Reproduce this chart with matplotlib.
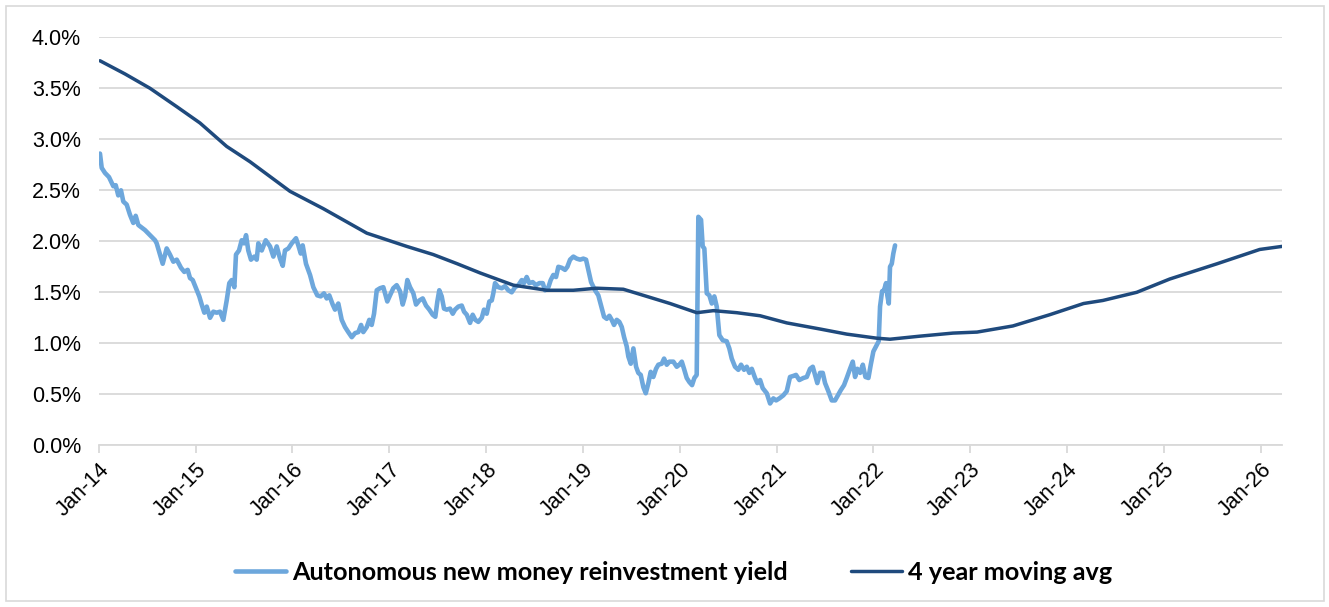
import numpy as np
import pandas as pd
import matplotlib
matplotlib.use("Agg")
import matplotlib.pyplot as plt
import matplotlib.dates as mdates
from matplotlib.ticker import FuncFormatter
from matplotlib.patches import Rectangle

# ---------------- data (years since 1 Jan 2014, yield in %) ----------------
yield_t = [
    0.010, 0.028, 0.062, 0.103, 0.148, 0.173, 0.199, 0.227, 0.251, 0.286, 0.320, 0.354, 0.379, 0.406,
    0.434, 0.475, 0.527, 0.579, 0.596, 0.630, 0.658, 0.699, 0.733, 0.768, 0.803, 0.847, 0.881, 0.916,
    0.940, 0.968, 1.002, 1.036, 1.061, 1.088, 1.113, 1.147, 1.181, 1.216, 1.250, 1.284, 1.319, 1.346,
    1.371, 1.398, 1.415, 1.446, 1.474, 1.498, 1.519, 1.542, 1.570, 1.604, 1.629, 1.646, 1.681, 1.722,
    1.767, 1.801, 1.836, 1.870, 1.898, 1.921, 1.956, 1.991, 2.018, 2.035, 2.059, 2.084, 2.104, 2.138,
    2.180, 2.214, 2.255, 2.290, 2.324, 2.352, 2.379, 2.414, 2.438, 2.472, 2.507, 2.541, 2.575, 2.611,
    2.645, 2.679, 2.707, 2.730, 2.766, 2.792, 2.817, 2.841, 2.869, 2.903, 2.937, 2.978, 3.006, 3.040,
    3.075, 3.110, 3.137, 3.161, 3.185, 3.213, 3.247, 3.275, 3.309, 3.344, 3.378, 3.412, 3.447, 3.474,
    3.495, 3.515, 3.540, 3.564, 3.592, 3.626, 3.654, 3.678, 3.712, 3.747, 3.771, 3.799, 3.833, 3.860,
    3.887, 3.918, 3.954, 3.977, 4.005, 4.032, 4.057, 4.073, 4.091, 4.125, 4.160, 4.194, 4.228, 4.263,
    4.298, 4.332, 4.367, 4.390, 4.418, 4.445, 4.480, 4.514, 4.549, 4.584, 4.607, 4.642, 4.666, 4.693,
    4.721, 4.745, 4.780, 4.814, 4.838, 4.866, 4.900, 4.935, 4.969, 5.003, 5.031, 5.055, 5.083, 5.124,
    5.158, 5.183, 5.217, 5.245, 5.272, 5.296, 5.320, 5.348, 5.375, 5.400, 5.424, 5.451, 5.468, 5.493,
    5.520, 5.548, 5.571, 5.596, 5.623, 5.648, 5.675, 5.699, 5.726, 5.754, 5.778, 5.813, 5.837, 5.865,
    5.892, 5.933, 5.968, 5.995, 6.020, 6.043, 6.071, 6.098, 6.126, 6.150, 6.174, 6.191, 6.219, 6.236,
    6.253, 6.278, 6.305, 6.330, 6.356, 6.381, 6.408, 6.443, 6.484, 6.511, 6.536, 6.570, 6.604, 6.632,
    6.663, 6.691, 6.718, 6.743, 6.777, 6.801, 6.829, 6.856, 6.898, 6.932, 6.966, 6.994, 7.028, 7.069,
    7.104, 7.138, 7.172, 7.200, 7.234, 7.276, 7.311, 7.345, 7.373, 7.397, 7.420, 7.448, 7.476, 7.500,
    7.534, 7.569, 7.603, 7.627, 7.662, 7.696, 7.724, 7.758, 7.786, 7.810, 7.833, 7.862, 7.890, 7.917,
    7.948, 7.972, 7.999, 8.027, 8.054, 8.068, 8.089, 8.109, 8.130, 8.143, 8.158, 8.171, 8.189, 8.205,
    8.223,
]
yield_v = [
    2.86, 2.72, 2.67, 2.63, 2.54, 2.55, 2.45, 2.50, 2.39, 2.36, 2.26, 2.18, 2.25, 2.16,
    2.14, 2.11, 2.06, 2.01, 1.98, 1.87, 1.78, 1.93, 1.87, 1.80, 1.82, 1.74, 1.70, 1.72,
    1.64, 1.62, 1.54, 1.46, 1.38, 1.30, 1.36, 1.25, 1.31, 1.30, 1.31, 1.23, 1.42, 1.59,
    1.62, 1.55, 1.87, 1.91, 2.01, 1.98, 2.06, 1.91, 1.82, 1.85, 1.82, 1.98, 1.91, 2.01,
    1.95, 1.85, 1.95, 1.83, 1.76, 1.91, 1.93, 1.98, 2.01, 2.03, 1.96, 1.88, 1.96, 1.78,
    1.67, 1.55, 1.47, 1.46, 1.49, 1.44, 1.47, 1.38, 1.33, 1.39, 1.23, 1.16, 1.11, 1.06,
    1.10, 1.11, 1.18, 1.11, 1.16, 1.23, 1.18, 1.29, 1.52, 1.54, 1.55, 1.41, 1.47, 1.54,
    1.57, 1.51, 1.38, 1.46, 1.62, 1.55, 1.49, 1.38, 1.42, 1.44, 1.37, 1.33, 1.28, 1.26,
    1.41, 1.52, 1.46, 1.34, 1.33, 1.34, 1.29, 1.33, 1.36, 1.37, 1.31, 1.28, 1.20, 1.28,
    1.23, 1.21, 1.25, 1.33, 1.29, 1.41, 1.42, 1.49, 1.59, 1.55, 1.54, 1.56, 1.52, 1.50,
    1.55, 1.57, 1.62, 1.59, 1.65, 1.59, 1.60, 1.57, 1.59, 1.59, 1.52, 1.55, 1.62, 1.67,
    1.65, 1.75, 1.74, 1.72, 1.75, 1.82, 1.85, 1.83, 1.82, 1.83, 1.82, 1.72, 1.60, 1.52,
    1.47, 1.38, 1.26, 1.24, 1.27, 1.23, 1.18, 1.23, 1.21, 1.16, 1.06, 0.97, 0.87, 0.80,
    0.95, 0.77, 0.71, 0.69, 0.57, 0.51, 0.61, 0.72, 0.67, 0.75, 0.79, 0.80, 0.85, 0.79,
    0.82, 0.82, 0.77, 0.79, 0.82, 0.75, 0.66, 0.62, 0.59, 0.66, 0.69, 2.24, 2.21, 1.95,
    1.93, 1.49, 1.47, 1.39, 1.46, 1.36, 1.08, 1.03, 1.02, 0.95, 0.85, 0.77, 0.74, 0.79,
    0.74, 0.77, 0.71, 0.75, 0.66, 0.61, 0.64, 0.56, 0.51, 0.41, 0.46, 0.44, 0.46, 0.49,
    0.53, 0.67, 0.68, 0.69, 0.64, 0.66, 0.67, 0.75, 0.77, 0.69, 0.61, 0.71, 0.71, 0.61,
    0.53, 0.44, 0.44, 0.48, 0.54, 0.59, 0.66, 0.75, 0.82, 0.67, 0.75, 0.71, 0.79, 0.67,
    0.66, 0.79, 0.92, 0.97, 1.02, 1.36, 1.51, 1.52, 1.59, 1.47, 1.39, 1.75, 1.78, 1.88,
    1.96,
]

avg_t = [
    0.010, 0.270, 0.527, 0.803, 1.043, 1.319, 1.560, 1.973, 2.317, 2.766, 3.179, 3.453, 3.700,
    3.936, 4.280, 4.625, 4.900, 5.140, 5.416, 5.658, 5.899, 6.175, 6.346, 6.588, 6.829, 7.104,
    7.448, 7.724, 8.034, 8.171, 8.480, 8.820, 9.070, 9.440, 9.820, 10.170, 10.370, 10.720,
    11.060, 11.550, 11.990, 12.220,
]
avg_v = [
    3.77, 3.64, 3.50, 3.32, 3.16, 2.93, 2.78, 2.49, 2.32, 2.08, 1.95, 1.87, 1.78,
    1.69, 1.57, 1.52, 1.52, 1.54, 1.53, 1.46, 1.39, 1.30, 1.32, 1.30, 1.27, 1.20,
    1.14, 1.09, 1.05, 1.04, 1.07, 1.10, 1.11, 1.17, 1.28, 1.39, 1.42, 1.50,
    1.63, 1.78, 1.92, 1.95,
]

series_names = ["Autonomous new money reinvestment yield", "4 year moving avg"]
y_ticks = [0.0, 0.5, 1.0, 1.5, 2.0, 2.5, 3.0, 3.5, 4.0]

# ---------------- helpers ----------------
origin = pd.Timestamp("2014-01-01")


def to_dates(t):
    return origin + pd.to_timedelta(np.asarray(t) * 365.25, unit="D")


light_c = "#6DA7DC"
dark_c = "#1F4A7D"
grid_c = "#D9D9D9"
tick_font = ["Liberation Sans", "DejaVu Sans"]

fig = plt.figure(figsize=(13.29, 6.07), dpi=100)
ax = fig.add_axes([99 / 1329, 1 - 445.3 / 607, (1282 - 99) / 1329, (445.3 - 37.3) / 607])

ax.plot(to_dates(yield_t), yield_v, color=light_c, lw=3.3, solid_joinstyle="round",
        solid_capstyle="round", label=series_names[0], zorder=3)
ax.plot(to_dates(avg_t), avg_v, color=dark_c, lw=2.5, solid_joinstyle="round",
        solid_capstyle="round", label=series_names[1], zorder=4)

ax.set_ylim(0, 4.0)
ax.set_yticks(y_ticks)
ax.yaxis.set_major_formatter(FuncFormatter(lambda v, p: f"{v:.1f}%"))
ax.set_xlim(origin, to_dates([avg_t[-1]])[0])

xt = pd.date_range("2014-01-01", "2026-01-01", freq="YS")
ax.set_xticks(xt)
ax.xaxis.set_major_formatter(mdates.DateFormatter("%b-%y"))

for s in ["top", "right", "left"]:
    ax.spines[s].set_visible(False)
ax.spines["bottom"].set_color(grid_c)
ax.spines["bottom"].set_linewidth(1.3)
ax.grid(axis="y", color=grid_c, lw=1.3, zorder=0)
ax.set_axisbelow(True)

ax.tick_params(axis="y", length=0, pad=13, labelsize=15.5, labelcolor="black")
ax.tick_params(axis="x", length=6, width=1.3, color=grid_c, pad=4, labelsize=15.5)
for lab in ax.get_yticklabels():
    lab.set_fontfamily(tick_font)
for lab in ax.get_xticklabels():
    lab.set_fontfamily(tick_font)
    lab.set_rotation(45)
    lab.set_ha("right")
    lab.set_va("top")
    lab.set_rotation_mode("anchor")

leg = fig.legend(loc="center", bbox_to_anchor=(0.507, 1 - 572 / 607), ncol=2, frameon=False,
                 handlelength=2.0, handletextpad=0.25, columnspacing=2.5,
                 prop={"family": ["Lato", "DejaVu Sans"], "weight": "bold", "size": 18.2})

fig.add_artist(Rectangle((6 / 1329, 6 / 607), 1318 / 1329, 595 / 607, transform=fig.transFigure,
                         fill=False, edgecolor=grid_c, lw=1.2))

fig.savefig("out.png", dpi=100)
